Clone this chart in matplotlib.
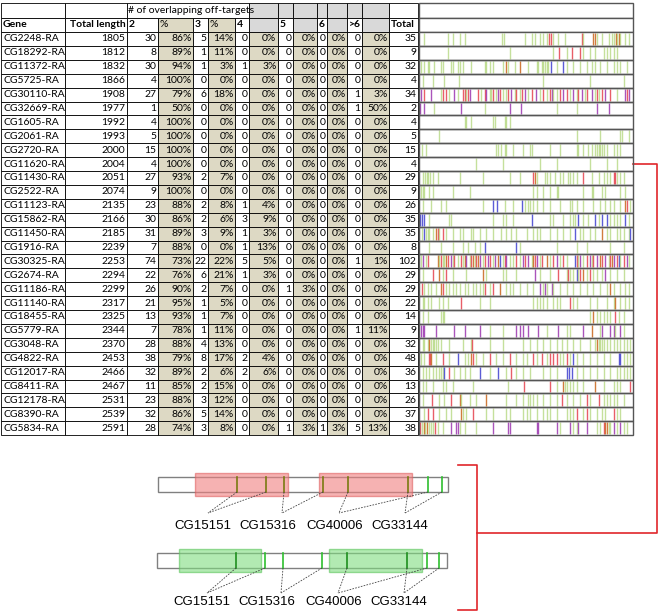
import matplotlib.pyplot as plt
from matplotlib.patches import Rectangle

plt.rcParams['font.family'] = ['Lato', 'DejaVu Sans']

# ---- table data ----
genes = ['CG2248-RA', 'CG18292-RA', 'CG11372-RA', 'CG5725-RA', 'CG30110-RA', 'CG32669-RA',
         'CG1605-RA', 'CG2061-RA', 'CG2720-RA', 'CG11620-RA', 'CG11430-RA', 'CG2522-RA',
         'CG11123-RA', 'CG15862-RA', 'CG11450-RA', 'CG1916-RA', 'CG30325-RA', 'CG2674-RA',
         'CG11186-RA', 'CG11140-RA', 'CG18455-RA', 'CG5779-RA', 'CG3048-RA', 'CG4822-RA',
         'CG12017-RA', 'CG8411-RA', 'CG12178-RA', 'CG8390-RA', 'CG5834-RA']
lengths = [1805, 1812, 1832, 1866, 1908, 1977, 1992, 1993, 2000, 2004, 2051, 2074, 2135, 2166,
           2185, 2239, 2253, 2294, 2299, 2317, 2325, 2344, 2370, 2453, 2466, 2467, 2531, 2539, 2591]
hits2 = [30, 8, 30, 4, 27, 1, 4, 5, 15, 4, 27, 9, 23, 30, 31, 7, 74, 22, 26, 21, 13, 7, 28, 38, 32, 11, 23, 32, 28]
hits3 = [5, 1, 1, 0, 6, 0, 0, 0, 0, 0, 2, 0, 2, 2, 3, 0, 22, 6, 2, 1, 1, 1, 4, 8, 2, 2, 3, 5, 3]
hits4 = [0, 0, 1, 0, 0, 0, 0, 0, 0, 0, 0, 0, 1, 3, 1, 1, 5, 1, 0, 0, 0, 0, 0, 2, 2, 0, 0, 0, 0]
hits5 = [0, 0, 0, 0, 0, 0, 0, 0, 0, 0, 0, 0, 0, 0, 0, 0, 0, 0, 1, 0, 0, 0, 0, 0, 0, 0, 0, 0, 1]
hits6 = [0, 0, 0, 0, 0, 0, 0, 0, 0, 0, 0, 0, 0, 0, 0, 0, 0, 0, 0, 0, 0, 0, 0, 0, 0, 0, 0, 0, 1]
hits_more = [0, 0, 0, 0, 1, 1, 0, 0, 0, 0, 0, 0, 0, 0, 0, 0, 1, 0, 0, 0, 0, 1, 0, 0, 0, 0, 0, 0, 5]

# off-target positions along each transcript (read on a 29..668 scale), suffix = colour class
strips = [
    "45 115 130 150 165 278 283 345 365 375 390 400 410 418r 424r 430 445 465 515r 520 550o 555o 560 575 595 605 612 617o 620 625o 630 645 655",
    "115 300 430 448r 470 485r 510r 520 540 555 580 590 600 610 620",
    "35 45 55 60 75 95 100 125 130 145 150 160 185 225 230 240 250 280 290o 295 315 330o 355 380 385 395 400 405 410 415 422b 440 460b 470 490 510 530 545 555 570 590 610 620 630 650",
    "40 70 105 148 400 540 640",
    "35p 45r 65p 95 100r 110r 120 135p 145 160r 165r 170 175r 180p 205r 215 225r 230p 240 245 250r 258 265p 270r 280 290 295r 305p 315 320r 330 338r 345p 355 365r 378p 390 400r 410 420r 425p 430 440 450r 460p 470r 480 490p 500 505r 515p 525 530r 545p 555 560r 565 575r 585p 600r 620 645p 650r 655p",
    "32p 45p 75 155p 225 300p 335p 440 500 560p 595p",
    "165 170 185 250 255 285 290 300",
    "90 500 570 630 635 655",
    "38 50 260 265 275 285 290 310 340 360 365 420 450 500 505 520 535 545 555 560 565 570 575 580 590 610 620 630",
    "200 280 390 440 540 590 620",
    "42 48 52 56 62 70 85 150 220 300 330 370r 375o 380 405 410 420 435 450 460 475 480 490 500 520r 545 565 580 590 600 610r 615r 620 630 640",
    "35 40 45 60 70 130 180 370 380 400 420 440 445 520 545 550 575 585 630 645",
    "40 65 95 110 220 250b 262b 285 310 338b 345 355 360 370 380 400 420 450 480 485 500 520 550 570 585 600 610 630 645o 650r 660",
    "33b 38b 45b 60 120 125 250 280 290 310 367b 420 430 460 480 490 495 505b 520 535 555b 565 575b 590b 600 610 620 630 645b 655",
    "38 45b 50 55 60 70 80o 85r 90 100r 110 130 150 160 185 190 210 230 250 275 290 305 320 350 370 380 390 420 440 460 480 495b 510 520 540 555 575o 590 600 620 630 640 655 660b",
    "60 95 130 160 175 195 210 225b 320b 330 440 500 530 600 640",
    "35 40p 50 55r 85o 90 95r 100 105 110o 115r 125p 130 135r 145 155r 160 165o 170p 180 185r 190o 195 200r 205o 210p 220 225r 235p 240r 250 255p 265o 270b 280 285r 290p 300 310 320r 330 340p 345r 355p 365 370o 375r 380p 390 395r 410o 420 430r 440p 450 460r 470 495b 500r 505 510p 520 530r 540p 545 550r 560p 570o 575r 585p 595 600r 605o 610p 620r 625b 630 640r 650p 655",
    "40 70r 90o 100 110r 130 170 220o 230 280 290 320 375p 390 420 445r 470 475r 480 490 500b 505 510r 520o 530 540r 550 560 575 585p 600 620 640",
    "38r 45 55 65 80 95o 100r 110 120 130 140 150 165 175 190 200 210 220 225r 240 250r 270o 290 300 310 330 350 370 390p 400 405p 410 425p 430 450 470 490 510 530 550 570 590 600o 610 630 645 655",
    "40 45 55 65 90 100 115 155r 210 240 370 380 390 400 410 430 440 450 480r 490 500 540 560 590 610 615o 630 645 655",
    "40 55 95 100 105 540 550o 560 570 580 590 600 615r 625 640",
    "35p 40p 45p 80p 135p 165p 210p 240 280 320p 330p 340p 355p 385p 410 445p 470 480 520p 545o 570 575p 600p 610p 615 630p 640",
    "40 45 55 60o 65 70 75 80 85 95 120 160 185 188r 240 280 340 360 380 400 420 440 455 470 490 510 540 555 560o 565 570 575 580 590 600 610 620 630 640 650 660",
    "35 45 60r 62r 65o 80 100r 120 145b 165 175 185o 190r 200 220 240r 260 280 300r 320 340 350 370r 380 395r 410 420r 430r 440r 450 460 470r 480 490b 500 520 540 560 580 600 625b 630b 640 650 660",
    "40 50 60 70 80 90 95 100 105b 120r 135 150 165 180 210b 240 265b 290 305r 320 340 360 400 420 440 470b 478b 485b 500 520 540 560 580 600 620 630 640 650 660",
    "40 50 70 100 110 130 190 295 343r 420r 440 460o 465 470 480 490 500 520 555o 580 610 620 630 660r",
    "40 68r 90 105 125r 150o 155 180 200 230o 290 320 340 355 360 370 380 400 420 440 455r 470 490 510 530r 540 565r 580 590 600 610 620 640",
    "45 55r 70r 90 110 125 155o 160 170 190r 230 250 290 300 340 350 360 380 400 410 420 440 470 480 490 500r 520 530r 540 560 575 585 610r 620 630",
    "33r 38 43o 48 52o 58 65 70 78r 85 100 125p 140p 145p 150 165 200 250p 295p 300p 380p 385p 440p 450 480p 490 500 505p 530p 560 570 580r 585o 590o 595 600 610p 620 630p 640 650",
]

# ---- diagram data (positions along a 290-unit transcript bar) ----
gene_labels = ['CG15151', 'CG15316', 'CG40006', 'CG33144']
sites_top = [79, 108, 126, 165, 190, 250, 270, 284]
sites_bottom = [79, 108, 126, 165, 190, 250, 270, 282]
boxes_top = [(37, 130), (161, 254)]
boxes_bottom = [(22, 104), (172, 265)]
site_groups = [(0, 1), (2, 3), (4, 6), (5, 7)]
label_x = [45, 110, 177, 242]
join_x = [50, 124, 181, 247]

# ---- layout (pixels) ----
col_x = [1, 65, 127, 158, 193, 208, 235, 249, 278, 293, 317, 327, 347, 362, 389, 418]
strip_x0, strip_x1 = 419, 633
strip_span = (29, 668)
h1_y, h2_y, d_y = 3, 17.5, 32
row_h = 13.9
fs = 7.5
tan = '#ddd9c4'
grey = '#d9d9d9'
red = '#e0262b'
stripe_col = {'g': '#9fcc5a', 'r': '#e4424d', 'o': '#c8651b', 'b': '#3f3fcf', 'p': '#9b36b0'}

fig = plt.figure(figsize=(6.61, 6.13), dpi=100)
ax = fig.add_axes([0, 0, 1, 1])
ax.set_xlim(0, 661)
ax.set_ylim(613, 0)
ax.axis('off')


def cell(x0, x1, y0, y1, fc='white', ec='black', lw=0.6):
    ax.add_patch(Rectangle((x0, y0), x1 - x0, y1 - y0, fc=fc, ec=ec, lw=lw, zorder=1))


def txt(x, y, s, ha='right', bold=False):
    ax.text(x, y, s, ha=ha, va='center', fontsize=fs, fontweight='bold' if bold else 'normal', zorder=3)


# header row 1
cell(col_x[0], col_x[1], h1_y, h2_y)
cell(col_x[1], col_x[2], h1_y, h2_y)
cell(col_x[2], col_x[7], h1_y, h2_y)
txt(col_x[2] + 1.5, (h1_y + h2_y) / 2, '# of overlapping off-targets', ha='left')
for c in range(7, 14):
    cell(col_x[c], col_x[c + 1], h1_y, h2_y, fc=grey)
cell(col_x[14], col_x[15], h1_y, h2_y)
cell(strip_x0, strip_x1, h1_y, h2_y, ec='#555555', lw=1.0)

# header row 2
hdr = ['Gene', 'Total length', '2', '%', '3', '%', '4', '', '5', '', '6', '', '>6', '', 'Total']
ym = (h2_y + d_y) / 2
for c, lab in enumerate(hdr):
    fc = 'white'
    if lab == '%':
        fc = tan
    elif c in (7, 9, 11, 13):
        fc = grey
    cell(col_x[c], col_x[c + 1], h2_y, d_y, fc=fc)
    if c == 1:
        txt(col_x[2] - 1.5, ym, lab, bold=True)
    else:
        txt(col_x[c] + 1.5, ym, lab, ha='left', bold=(lab != '%'))
cell(strip_x0, strip_x1, h2_y, d_y, ec='#555555', lw=1.0)

# data rows
for i, g in enumerate(genes):
    y0 = d_y + i * row_h
    y1 = y0 + row_h
    ym = (y0 + y1) / 2
    counts = [hits2[i], hits3[i], hits4[i], hits5[i], hits6[i], hits_more[i]]
    total = sum(counts)
    cell(col_x[0], col_x[1], y0, y1)
    txt(col_x[0] + 2, ym, g, ha='left')
    cell(col_x[1], col_x[2], y0, y1)
    txt(col_x[2] - 1.5, ym, str(lengths[i]))
    for k, n in enumerate(counts):
        c = 2 + 2 * k
        cell(col_x[c], col_x[c + 1], y0, y1)
        txt(col_x[c + 1] - 1.5, ym, str(n))
        cell(col_x[c + 1], col_x[c + 2], y0, y1, fc=tan)
        txt(col_x[c + 2] - 1.5, ym, '%d%%' % int(100.0 * n / total + 0.5))
    cell(col_x[14], col_x[15], y0, y1)
    txt(col_x[15] - 1.5, ym, str(total))

    # stripe row
    ax.add_patch(Rectangle((strip_x0, y0), strip_x1 - strip_x0, row_h, fc='white', ec='none', zorder=1))
    for tok in strips[i].split():
        code = tok[-1] if tok[-1].isalpha() else 'g'
        pos = int(tok.rstrip('rgobp'))
        x = strip_x0 + (pos - strip_span[0]) / (strip_span[1] - strip_span[0]) * (strip_x1 - strip_x0)
        ax.plot([x, x], [y0 + 1, y1 - 1], color=stripe_col[code], lw=1.0,
                alpha=0.6 if code == 'g' else 0.85, solid_capstyle='butt', zorder=2)
    ax.add_patch(Rectangle((strip_x0, y0), strip_x1 - strip_x0, row_h, fc='none', ec='#555555', lw=1.0, zorder=3))

# red connector from CG11620 strip to the diagram
y_link = d_y + (genes.index('CG11620-RA') + 0.5) * row_h
ax.plot([strip_x1, 657, 657, 477], [y_link, y_link, 533, 533], color=red, lw=1.2)
ax.plot([458, 477, 477, 458], [465, 465, 610, 610], color=red, lw=1.2)


# ---- transcript diagrams ----
def transcript(x0, yb, boxes, sites, box_fc, box_ec, in_col, join_y, lab_y):
    bar_h = 15
    ax.add_patch(Rectangle((x0, yb), 290, bar_h, fc='white', ec='#808080', lw=1.0, zorder=1))
    for a, b in boxes:
        ax.add_patch(Rectangle((x0 + a, yb - 4), b - a, bar_h + 8, fc=box_fc, ec=box_ec,
                               lw=1.0, alpha=0.6, zorder=2))
    for s in sites:
        inside = any(a <= s <= b for a, b in boxes)
        ax.plot([x0 + s, x0 + s], [yb, yb + bar_h], color=in_col if inside else '#2fbf2f',
                lw=1.2, zorder=3)
    for k, grp in enumerate(site_groups):
        for j in grp:
            ax.plot([x0 + sites[j], x0 + join_x[k]], [yb + bar_h, join_y], color='#444444',
                    lw=0.6, ls=(0, (2, 1.5)), zorder=3)
        ax.text(x0 + label_x[k], lab_y, gene_labels[k], ha='center', va='center', fontsize=9.5,
                family='Liberation Sans')


transcript(158, 477, boxes_top, sites_top, '#f08080', '#e06060', '#7a7a10', 513, 526)
transcript(157, 553, boxes_bottom, sites_bottom, '#7fdc7f', '#5cc45c', '#1f8f1f', 593, 602)

plt.savefig('out.png', dpi=100)
